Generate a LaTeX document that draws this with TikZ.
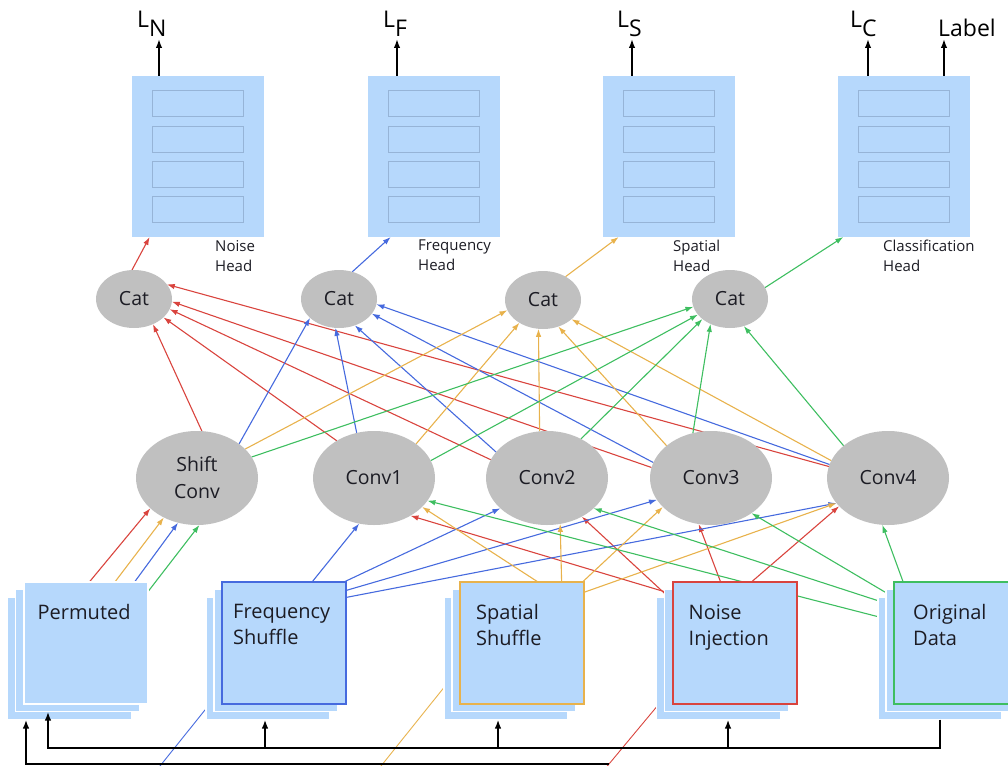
\documentclass[tikz,border=0pt]{standalone}
\usepackage{fontspec}
\setmainfont{Open Sans}
\usetikzlibrary{arrows.meta,positioning,shapes.geometric}
\definecolor{boxblue}{RGB}{182,216,252}
\definecolor{slotline}{RGB}{150,180,215}
\definecolor{catgray}{RGB}{192,192,192}
\definecolor{nred}{RGB}{217,68,62}
\definecolor{fblue}{RGB}{70,106,222}
\definecolor{syellow}{RGB}{232,178,76}
\definecolor{ogreen}{RGB}{62,190,96}
\definecolor{ink}{RGB}{28,28,36}
\pgfdeclarelayer{bg}
\pgfsetlayers{bg,main}

\begin{document}
\begin{tikzpicture}[x=1pt,y=-1pt,
    head/.style={fill=boxblue, minimum width=132pt, minimum height=161pt, inner sep=0pt, outer sep=0pt},
    slot/.style={fill=boxblue, draw=slotline, line width=1pt, minimum width=91pt, minimum height=26pt, inner sep=0pt},
    blob/.style={ellipse, fill=catgray, inner sep=0pt, outer sep=0pt, text=ink},
    cat/.style={blob, minimum width=76pt, minimum height=58pt, font=\fontsize{19.5}{23}\selectfont},
    conv/.style={blob, minimum width=122pt, minimum height=94pt, align=center, font=\fontsize{19.5}{27}\selectfont},
    databox/.style={fill=boxblue, line width=2pt, minimum width=124pt, minimum height=122pt, inner sep=0pt, outer sep=0pt},
    layer/.style={fill=boxblue, draw=white, line width=1.2pt, minimum width=124pt, minimum height=122pt, inner sep=0pt, outer sep=0pt},
    datatext/.style={align=left, inner sep=0pt, text=ink, font=\fontsize{20}{26}\selectfont},
    headtext/.style={align=left, inner sep=0pt, anchor=north west, text=ink, font=\fontsize{15}{20}\selectfont},
    loss/.style={inner sep=0pt, anchor=base west, font=\fontsize{23}{27}\selectfont},
    feed/.style={line width=1.1pt, -{Latex[length=8pt,width=5.5pt]}},
    bus/.style={line width=1.8pt, black},
    tip/.style={-{Latex[length=9pt,width=6.5pt]}}
  ]
  \useasboundingbox (0,0) rectangle (1008,765);
  \clip (0,0) rectangle (1008,765);

  % Heads
  \foreach \n/\x in {hN/198, hF/433.5, hS/669, hC/904} {
    \node[head] (\n) at (\x,156.5) {};
    \foreach \k in {-1.5,-0.5,0.5,1.5}
      \node[slot] at (\x,{156.5+\k*35}) {};
  }
  \node[headtext] (capN) at (215,240) {Noise\\Head};
  \node[headtext] (capF) at (418,240) {Frequency\\Head};
  \node[headtext] (capS) at (673,240) {Spatial\\Head};
  \node[headtext] (capC) at (883,240) {Classification\\Head};

  % Losses
  \foreach \t/\x in {tN/159, tF/397, tS/632, tC/868, tL/944}
    \coordinate (\t) at (\x,39);
  \node[loss] (lN) at (137,28) {L\raisebox{-9pt}{N}};
  \node[loss] (lF) at (383,28) {L\raisebox{-9pt}{F}};
  \node[loss] (lS) at (617,28) {L\raisebox{-9pt}{S}};
  \node[loss] (lC) at (850,28) {L\raisebox{-9pt}{C}};
  \node[loss] (lL) at (938,37) {Label};
  \foreach \h/\t in {hN/tN, hF/tF, hS/tS, hC/tC, hC/tL}
    \draw[bus, tip, line width=1.6pt] (\h.north -| \t) -- (\t);

  % Cat and conv nodes
  \node[cat] (c1) at (134,299) {Cat};
  \node[cat] (c2) at (339,299) {Cat};
  \node[cat] (c3) at (543,300) {Cat};
  \node[cat] (c4) at (730,299) {Cat};
  \node[conv] (sc) at (197,478) {Shift\\Conv};
  \node[conv] (v1) at (374,478) {Conv1};
  \node[conv] (v2) at (547,478) {Conv2};
  \node[conv] (v3) at (711,478) {Conv3};
  \node[conv] (v4) at (888,478) {Conv4};

  % Augmented inputs, stacked
  \foreach \n/\x/\c/\dx/\txt in {perm/85.5/white/14/Permuted, freq/284/fblue/11/{Frequency\\Shuffle},
      spat/522/syellow/16/{Spatial\\Shuffle}, nois/734.5/nred/16/{Noise\\Injection}, orig/956/ogreen/19/{Original\\Data}} {
    \node[layer] (\n3) at (\x-16,658.5) {};
    \node[layer] (\n2) at (\x-8,650.5) {};
    \node[databox, draw=\c] (\n) at (\x,642.5) {};
    \node[datatext, below right=23pt and \dx pt of \n.north west] (\n txt) {\txt};
  }

  \begin{pgfonlayer}{bg}
    % Noise branch
    \foreach \a/\b in {perm.86/sc.213, sc.84/c1.307, v1.135/c1.328, v2.162/c1.344, v3.170/c1.356,
        v4.169/c1.24, c1.94/hN.239, nois.142/v1.314, nois.146/v2.312, nois.103/v3.255, nois.74/v4.210}
      \draw[feed, nred] (\a) -- (\b);
    % Frequency branch
    \foreach \a/\b in {perm.51/sc.247, sc.39/c2.213, v1.111/c2.263, v2.153/c2.301, v3.165/c2.336,
        v4.167/c2.352, c2.64/hF.242, freq.65/v1.252, freq.45/v2.213, freq.40/v3.202, freq.36/v4.206}
      \draw[feed, fblue] (\a) -- (\b);
    % Spatial branch
    \foreach \a/\b in {perm.64/sc.230, sc.31/c3.196, v1.39/c3.224, v2.99/c3.261, v3.144/c3.300,
        v4.163/c3.326, c3.46/hS.238, spat.76/v1.329, spat.57/v2.286, spat.45/v3.211, spat.39/v4.206}
      \draw[feed, syellow] (\a) -- (\b);
    % Classification branch
    \foreach \a/\b in {perm.39/sc.273, sc.21/c4.192, v1.17/c4.206, v2.49/c4.216, v3.112/c4.232,
        v4.144/c4.297, c4.18/hC.233, orig3.146/v1.337, orig3.137/v2.327, orig2.137/v3.319, orig.131/v4.263}
      \draw[feed, ogreen] (\a) -- (\b);

    % lines running off the bottom
    \coordinate (dF) at (152,776);
    \coordinate (dS) at (373,776);
    \coordinate (dN) at (599,776);
    \draw[fblue, line width=0.9pt] (freq3.219) -- (dF);
    \draw[syellow, line width=0.9pt] (spat3.205) -- (dS);
    \draw[nred, line width=0.9pt] (nois3.218) -- (dN);
  \end{pgfonlayer}

  % Original data fed back to every input
  \coordinate (busR) at (940,748);
  \coordinate (busL) at (48,748);
  \draw[bus, tip] (orig3.south -| busR) -- (busR) -- (busL) -- (perm2.south -| busL);
  \foreach \n/\x in {freq3/265, spat3/498, nois3/728} {
    \coordinate (b\n) at (\x,748);
    \draw[bus, tip] (b\n) -- (\n.south -| b\n);
  }
  \coordinate (lowR) at (609,764);
  \coordinate (lowL) at (26,764);
  \draw[bus, tip] (lowR) -- (lowL) -- (perm3.south -| lowL);
\end{tikzpicture}
\end{document}
